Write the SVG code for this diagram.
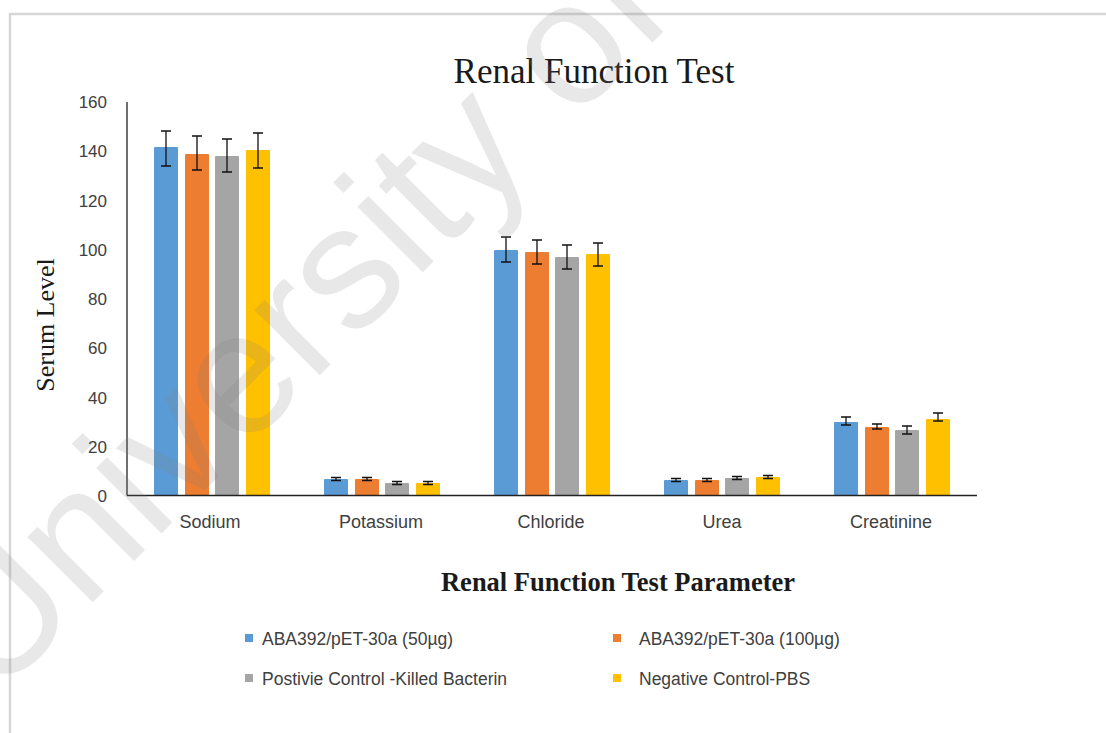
<svg xmlns="http://www.w3.org/2000/svg" width="1106" height="733" viewBox="0 0 1106 733">
  <style>
    .tick { font-family: "Liberation Sans", Arial, sans-serif; font-size: 17px; fill: #404040; text-anchor: end; }
    .cat { font-family: "Liberation Sans", Arial, sans-serif; font-size: 18px; fill: #404040; text-anchor: middle; }
    .leg { font-family: "Liberation Sans", Arial, sans-serif; font-size: 17.5px; fill: #404040; }
    .title { font-family: "Liberation Serif", "Times New Roman", serif; fill: #1a1a1a; }
    .s1 { fill: #5B9BD5; }
    .s2 { fill: #ED7D31; }
    .s3 { fill: #A5A5A5; }
    .s4 { fill: #FFC000; }
    .err { stroke: #111; stroke-width: 1.3; fill: none; }
    .axis { stroke: #222; stroke-width: 1.3; }
  </style>

  <rect x="0" y="0" width="1106" height="733" fill="#ffffff"/>
  <!-- chart frame -->
  <rect x="10" y="14" width="1110" height="730" fill="none" stroke="#d6d6d6" stroke-width="2.5"/>

  <!-- titles -->
  <text class="title" x="594" y="83" font-size="35" text-anchor="middle">Renal Function Test</text>
  <text class="title" x="618" y="591" font-size="26.5" font-weight="bold" text-anchor="middle">Renal Function Test Parameter</text>
  <text class="title" font-size="26" text-anchor="middle" transform="translate(54,325) rotate(-90)">Serum Level</text>

  <!-- value axis ticks -->
  <g id="y-axis">
    <text class="tick" x="107" y="502">0</text>
    <text class="tick" x="107" y="452.5">20</text>
    <text class="tick" x="107" y="403.5">40</text>
    <text class="tick" x="107" y="354">60</text>
    <text class="tick" x="107" y="305">80</text>
    <text class="tick" x="107" y="255.5">100</text>
    <text class="tick" x="107" y="206.5">120</text>
    <text class="tick" x="107" y="157">140</text>
    <text class="tick" x="107" y="108">160</text>
    <line class="axis" x1="127" y1="102" x2="127" y2="495.5" stroke-width="1"/>
  </g>

  <!-- bars: blue 50µg, orange 100µg, grey killed bacterin, yellow PBS -->
  <g id="sodium">
    <rect class="s1" x="154" y="147" width="24" height="348.5" rx="1"/>
    <rect class="s2" x="185" y="154" width="24" height="341.5" rx="1"/>
    <rect class="s3" x="215" y="156" width="24" height="339.5" rx="1"/>
    <rect class="s4" x="246" y="150" width="24" height="345.5" rx="1"/>
    <path class="err" d="M166 131V166M161 131H171M161 166H171"/>
    <path class="err" d="M197 136V170M192 136H202M192 170H202"/>
    <path class="err" d="M227 139V172M222 139H232M222 172H232"/>
    <path class="err" d="M258 133V168M253 133H263M253 168H263"/>
    <text class="cat" x="210" y="528">Sodium</text>
  </g>

  <g id="potassium">
    <rect class="s1" x="324" y="479" width="24" height="16.5" rx="1"/>
    <rect class="s2" x="355" y="479" width="24" height="16.5" rx="1"/>
    <rect class="s3" x="385" y="483" width="24" height="12.5" rx="1"/>
    <rect class="s4" x="416" y="483" width="24" height="12.5" rx="1"/>
    <path class="err" d="M336 477.5V480.5M331 477.5H341M331 480.5H341"/>
    <path class="err" d="M367 477.5V480.5M362 477.5H372M362 480.5H372"/>
    <path class="err" d="M397 481.5V484.5M392 481.5H402M392 484.5H402"/>
    <path class="err" d="M428 481.5V484.5M423 481.5H433M423 484.5H433"/>
    <text class="cat" x="381" y="528">Potassium</text>
  </g>

  <g id="chloride">
    <rect class="s1" x="494" y="250" width="24" height="245.5" rx="1"/>
    <rect class="s2" x="525" y="252" width="24" height="243.5" rx="1"/>
    <rect class="s3" x="555" y="257" width="24" height="238.5" rx="1"/>
    <rect class="s4" x="586" y="254" width="24" height="241.5" rx="1"/>
    <path class="err" d="M506 237V262M501 237H511M501 262H511"/>
    <path class="err" d="M537 240V264M532 240H542M532 264H542"/>
    <path class="err" d="M567 245V269M562 245H572M562 269H572"/>
    <path class="err" d="M598 243V266M593 243H603M593 266H603"/>
    <text class="cat" x="551" y="528">Chloride</text>
  </g>

  <g id="urea">
    <rect class="s1" x="664" y="480" width="24" height="15.5" rx="1"/>
    <rect class="s2" x="695" y="480" width="24" height="15.5" rx="1"/>
    <rect class="s3" x="725" y="478" width="24" height="17.5" rx="1"/>
    <rect class="s4" x="756" y="477" width="24" height="18.5" rx="1"/>
    <path class="err" d="M676 478.5V481.5M671 478.5H681M671 481.5H681"/>
    <path class="err" d="M707 478.5V481.5M702 478.5H712M702 481.5H712"/>
    <path class="err" d="M737 476.5V479.5M732 476.5H742M732 479.5H742"/>
    <path class="err" d="M768 475.5V478.5M763 475.5H773M763 478.5H773"/>
    <text class="cat" x="722" y="528">Urea</text>
  </g>

  <g id="creatinine">
    <rect class="s1" x="834" y="422" width="24" height="73.5" rx="1"/>
    <rect class="s2" x="865" y="427" width="24" height="68.5" rx="1"/>
    <rect class="s3" x="895" y="430" width="24" height="65.5" rx="1"/>
    <rect class="s4" x="926" y="419" width="24" height="76.5" rx="1"/>
    <path class="err" d="M846 417V425M841 417H851M841 425H851"/>
    <path class="err" d="M877 424V429M872 424H882M872 429H882"/>
    <path class="err" d="M907 426V434M902 426H912M902 434H912"/>
    <path class="err" d="M938 413V421M933 413H943M933 421H943"/>
    <text class="cat" x="891" y="528">Creatinine</text>
  </g>

  <!-- category axis -->
  <g id="connectors">
    <line class="axis" x1="127" y1="495.5" x2="977" y2="495.5"/>
  </g>

  <!-- legend -->
  <g id="legend">
    <rect class="s1" x="245" y="634" width="8" height="8"/>
    <text class="leg" x="262" y="645">ABA392/pET-30a (50µg)</text>
    <rect class="s2" x="613" y="634" width="8" height="8"/>
    <text class="leg" x="639" y="645">ABA392/pET-30a (100µg)</text>
    <rect class="s3" x="245" y="674" width="8" height="8"/>
    <text class="leg" x="262" y="685">Postivie Control -Killed Bacterin</text>
    <rect class="s4" x="613" y="674" width="8" height="8"/>
    <text class="leg" x="639" y="685">Negative Control-PBS</text>
  </g>

  <!-- watermark -->
  <text x="0" y="0" transform="translate(-5,700) rotate(-45)" font-family="'Liberation Sans', Arial, sans-serif" font-size="175" fill="#808080" fill-opacity="0.18">University of Malaya</text>
</svg>
